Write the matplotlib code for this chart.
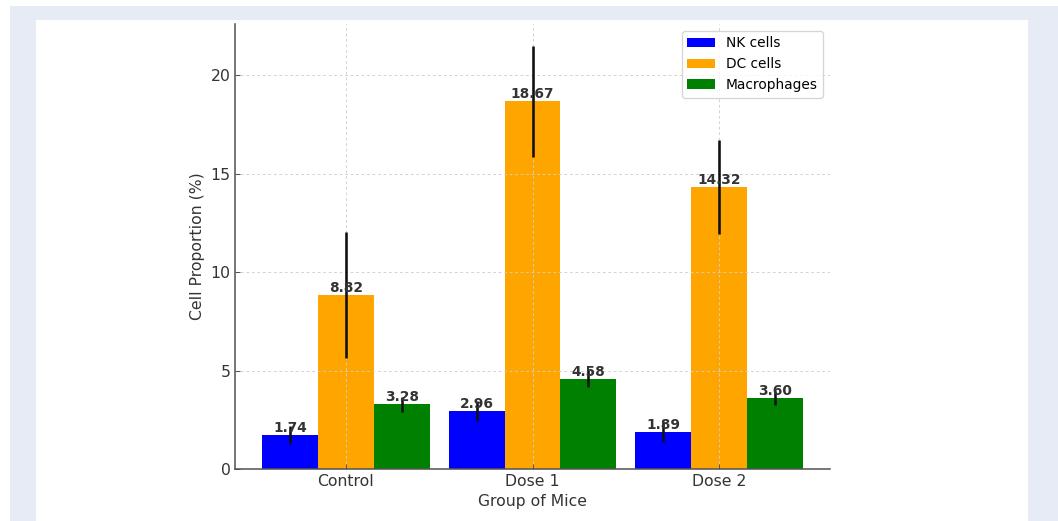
import numpy as np
import matplotlib.pyplot as plt
from matplotlib.patches import Rectangle

# Cell proportions per mouse group (mean, error)
groups = ["Control", "Dose 1", "Dose 2"]
cell_types = ["NK cells", "DC cells", "Macrophages"]
nk_mean = [1.74, 2.96, 1.89]
dc_mean = [8.82, 18.67, 14.32]
mac_mean = [3.28, 4.58, 3.60]
nk_err = [0.45, 0.5, 0.5]
dc_err = [3.2, 2.8, 2.4]
mac_err = [0.4, 0.43, 0.35]

colors = ["#0000ff", "#ffa500", "#008000"]
text_color = "#333333"

fig = plt.figure(figsize=(1058 / 94, 521 / 94), dpi=94, facecolor="white")

# page frame behind the chart
W, H = 1058, 521
fig.patches.append(Rectangle((10 / W, 0), 1 - 10 / W, 1 - 6 / H, transform=fig.transFigure,
                             facecolor="#e7ebf6", edgecolor="none", zorder=-2))
fig.patches.append(Rectangle((36 / W, 0), (1028 - 36) / W, 1 - 20 / H, transform=fig.transFigure,
                             facecolor="white", edgecolor="none", zorder=-1))

ax = fig.add_axes([235 / W, 1 - 469 / H, (830 - 235) / W, (469 - 24) / H])
ax.patch.set_alpha(0)

x = np.arange(len(groups))
width = 0.3
means = [nk_mean, dc_mean, mac_mean]
errs = [nk_err, dc_err, mac_err]

for i, (m, e) in enumerate(zip(means, errs)):
    bars = ax.bar(x + (i - 1) * width, m, width, yerr=e, color=colors[i], label=cell_types[i],
                  error_kw=dict(ecolor="#111111", elinewidth=2, capsize=0))
    for b, v in zip(bars, m):
        ax.text(b.get_x() + b.get_width() / 2, v, f"{v:.2f}", ha="center", va="bottom",
                fontsize=10.5, fontweight="bold", color=text_color)

ax.set_xticks(x)
ax.set_xticklabels(groups)
ax.set_yticks([0, 5, 10, 15, 20])
ax.set_ylim(0, 22.6)
ax.set_xlim(-0.595, 2.595)
ax.set_xlabel("Group of Mice", fontsize=12, color=text_color)
ax.set_ylabel("Cell Proportion (%)", fontsize=12, color=text_color)
ax.tick_params(direction="in", labelsize=12, labelcolor=text_color, color="#555555")
ax.grid(True, linestyle=(0, (3, 3)), color="#cfcfcf", linewidth=0.7)

for side in ["top", "right"]:
    ax.spines[side].set_visible(False)
for side in ["left", "bottom"]:
    ax.spines[side].set_color("#555555")
    ax.spines[side].set_linewidth(1.2)

ax.legend(loc="upper right", fontsize=10.5)

fig.savefig("out.png", dpi=94)
